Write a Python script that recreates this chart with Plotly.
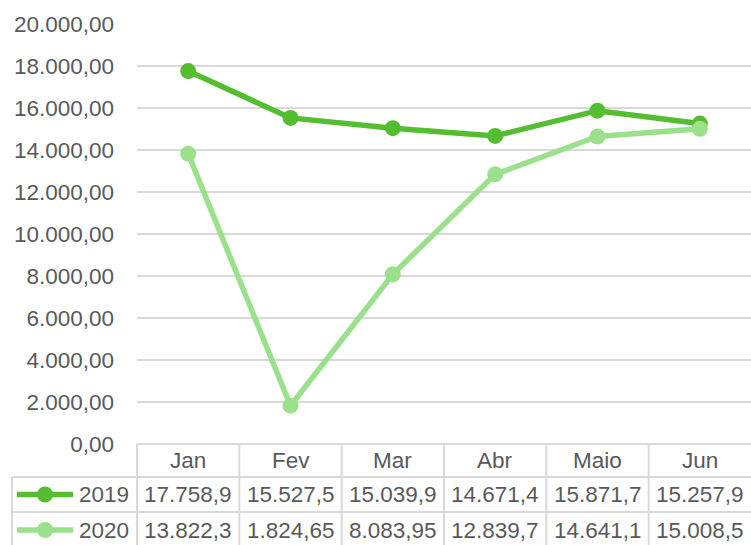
import plotly.graph_objects as go

months = ["Jan", "Fev", "Mar", "Abr", "Maio", "Jun"]
series_names = ["2019", "2020"]
values_2019 = [17758.9, 15527.5, 15039.9, 14671.4, 15871.7, 15257.9]
values_2020 = [13822.3, 1824.65, 8083.95, 12839.7, 14641.1, 15008.5]
table_2019 = ["17.758,9", "15.527,5", "15.039,9", "14.671,4", "15.871,7", "15.257,9"]
table_2020 = ["13.822,3", "1.824,65", "8.083,95", "12.839,7", "14.641,1", "15.008,5"]
colors = ["#55bd30", "#9be18c"]

W, H = 751, 545
ML, MR, MT, MB = 137, 0, 24, 101
PW, PH = W - ML - MR, H - MT - MB
TXT = "#595959"
GRID = "#d9d9d9"
FONT = "Liberation Sans, Arial, sans-serif"
TFS = 22.5


def px_x(p):
    return (p - ML) / PW


def px_y(p):
    return (H - MB - p) / PH


fig = go.Figure()
for name, vals, col in zip(series_names, [values_2019, values_2020], colors):
    fig.add_trace(go.Scatter(
        x=months, y=vals, name=name, mode="lines+markers",
        line=dict(color=col, width=5.5), marker=dict(color=col, size=16),
        cliponaxis=False, hoverinfo="skip",
    ))

shapes = []
annotations = []
row_top = [444, 477, 512]
row_bot = [477, 512, 548]
n = len(months)
for k in range(n):
    shapes.append(dict(type="line", xref="paper", yref="paper",
                       x0=k / n, x1=k / n, y0=px_y(444), y1=px_y(548),
                       line=dict(color=GRID, width=2)))
shapes.append(dict(type="line", xref="paper", yref="paper",
                   x0=px_x(12), x1=px_x(12), y0=px_y(477), y1=px_y(548),
                   line=dict(color=GRID, width=2)))
for yy in [477, 512]:
    shapes.append(dict(type="line", xref="paper", yref="paper",
                       x0=px_x(12), x1=1, y0=px_y(yy), y1=px_y(yy),
                       line=dict(color=GRID, width=2)))

for m in months:
    annotations.append(dict(x=m, xref="x", y=px_y((row_top[0] + row_bot[0]) / 2), yref="paper",
                            text=m, showarrow=False, font=dict(size=TFS, color=TXT, family=FONT),
                            xanchor="center", yanchor="middle"))

for r, (name, labels, col) in enumerate(zip(series_names, [table_2019, table_2020], colors)):
    yc = px_y((row_top[r + 1] + row_bot[r + 1]) / 2)
    shapes.append(dict(type="line", xref="paper", yref="paper",
                       x0=px_x(17), x1=px_x(73), y0=yc, y1=yc,
                       line=dict(color=col, width=5.5)))
    shapes.append(dict(type="circle", xref="paper", yref="paper",
                       xsizemode="pixel", ysizemode="pixel",
                       xanchor=px_x(45), yanchor=yc,
                       x0=-8, x1=8, y0=-8, y1=8,
                       fillcolor=col, line=dict(color=col, width=0)))
    annotations.append(dict(x=px_x(131), xref="paper", y=yc, yref="paper", text=name,
                            showarrow=False, font=dict(size=TFS, color=TXT, family=FONT),
                            xanchor="right", yanchor="middle"))
    for m, lab in zip(months, labels):
        annotations.append(dict(x=m, xref="x", y=yc, yref="paper", text=lab,
                                showarrow=False, font=dict(size=TFS, color=TXT, family=FONT),
                                xanchor="center", yanchor="middle"))

fig.update_layout(
    width=W, height=H,
    margin=dict(l=ML, r=MR, t=MT, b=MB, pad=0),
    paper_bgcolor="white", plot_bgcolor="white",
    separators=",.",
    showlegend=False,
    hovermode=False,
    font=dict(family=FONT, color=TXT, size=TFS),
    xaxis=dict(type="category", range=[-0.5, n - 0.5], showticklabels=False,
               showgrid=False, zeroline=False, showline=False, ticks=""),
    yaxis=dict(range=[0, 20000], dtick=2000, tickformat=",.2f",
               showgrid=True, gridcolor=GRID, gridwidth=2,
               zeroline=True, zerolinecolor=GRID, zerolinewidth=2,
               showline=False, ticks="", ticklabelstandoff=22,
               tickfont=dict(size=22.5, color=TXT, family=FONT)),
    shapes=shapes, annotations=annotations,
)

fig.write_html("out.html", config={"displayModeBar": False},
               post_script="document.body.style.margin='0';document.body.style.overflow='hidden';")
